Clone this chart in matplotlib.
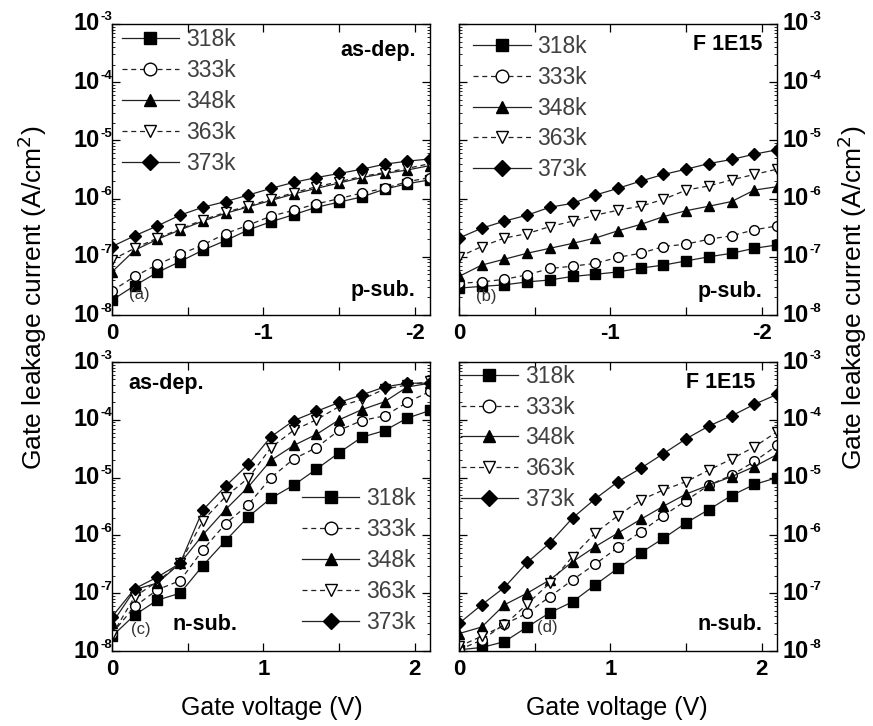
import numpy as np
import matplotlib.pyplot as plt
from matplotlib.ticker import LogLocator, NullFormatter
from matplotlib.transforms import offset_copy

plt.rcParams['font.family'] = ['Liberation Sans', 'DejaVu Sans']

labels = ['318k', '333k', '348k', '363k', '373k']
vg = [0, 0.15, 0.3, 0.45, 0.6, 0.75, 0.9, 1.05, 1.2, 1.35, 1.5, 1.65, 1.8, 1.95, 2.1]
decades = [-8, -7, -6, -5, -4, -3]

# (a) p-sub, as-dep, negative bias
a_318 = [1.8e-8, 3.2e-8, 5.4e-8, 8.3e-8, 1.3e-7, 1.9e-7, 2.9e-7, 4.0e-7, 5.3e-7, 7.1e-7, 8.7e-7, 1.07e-6, 1.45e-6, 1.8e-6, 2.1e-6]
a_333 = [2.6e-8, 4.6e-8, 7.4e-8, 1.1e-7, 1.6e-7, 2.5e-7, 3.5e-7, 5.0e-7, 6.3e-7, 8.1e-7, 1.0e-6, 1.25e-6, 1.5e-6, 1.95e-6, 2.3e-6]
a_348 = [5.5e-8, 1.3e-7, 2.0e-7, 2.9e-7, 4.1e-7, 5.6e-7, 7.2e-7, 9.3e-7, 1.2e-6, 1.5e-6, 1.85e-6, 2.3e-6, 2.7e-6, 3.1e-6, 3.7e-6]
a_363 = [8.9e-8, 1.4e-7, 2.1e-7, 3.0e-7, 4.3e-7, 5.8e-7, 7.5e-7, 9.7e-7, 1.26e-6, 1.6e-6, 1.95e-6, 2.4e-6, 2.8e-6, 3.3e-6, 4.0e-6]
a_373 = [1.5e-7, 2.3e-7, 3.4e-7, 5.2e-7, 7.1e-7, 8.9e-7, 1.15e-6, 1.5e-6, 1.9e-6, 2.3e-6, 2.7e-6, 3.2e-6, 3.9e-6, 4.4e-6, 4.8e-6]

# (b) p-sub, F 1E15
b_318 = [2.9e-8, 3.1e-8, 3.3e-8, 3.7e-8, 4.0e-8, 4.6e-8, 5.0e-8, 5.5e-8, 6.4e-8, 7.2e-8, 8.5e-8, 1.0e-7, 1.15e-7, 1.4e-7, 1.6e-7]
b_333 = [3.5e-8, 3.7e-8, 4.1e-8, 4.9e-8, 6.3e-8, 6.9e-8, 7.7e-8, 9.8e-8, 1.15e-7, 1.5e-7, 1.65e-7, 2.0e-7, 2.3e-7, 2.9e-7, 3.4e-7]
b_348 = [4.6e-8, 7.2e-8, 9.1e-8, 1.15e-7, 1.4e-7, 1.7e-7, 2.1e-7, 2.8e-7, 3.6e-7, 4.9e-7, 6.2e-7, 7.4e-7, 8.9e-7, 1.4e-6, 1.6e-6]
b_363 = [1.0e-7, 1.5e-7, 2.1e-7, 2.5e-7, 3.3e-7, 4.1e-7, 5.2e-7, 6.3e-7, 7.4e-7, 9.7e-7, 1.4e-6, 1.65e-6, 2.1e-6, 2.6e-6, 3.2e-6]
b_373 = [2.1e-7, 3.1e-7, 4.1e-7, 5.2e-7, 7.1e-7, 8.3e-7, 1.15e-6, 1.5e-6, 2.0e-6, 2.6e-6, 3.2e-6, 4.0e-6, 4.7e-6, 5.8e-6, 6.9e-6]

# (c) n-sub, as-dep
c_318 = [1.8e-8, 4.2e-8, 7.6e-8, 1.0e-7, 3.0e-7, 8.1e-7, 2.1e-6, 4.4e-6, 7.4e-6, 1.4e-5, 2.7e-5, 5.0e-5, 6.5e-5, 1.07e-4, 1.45e-4]
c_333 = [2.0e-8, 5.9e-8, 1.15e-7, 1.65e-7, 5.6e-7, 1.6e-6, 3.4e-6, 1.0e-5, 2.1e-5, 3.3e-5, 6.6e-5, 9.7e-5, 1.17e-4, 2.0e-4, 3.1e-4]
c_348 = [3.0e-8, 1.15e-7, 1.5e-7, 3.3e-7, 1.02e-6, 2.8e-6, 6.9e-6, 2.0e-5, 3.6e-5, 5.6e-5, 1.0e-4, 1.5e-4, 2.05e-4, 3.7e-4, 4.3e-4]
c_363 = [1.9e-8, 8.7e-8, 1.6e-7, 3.3e-7, 1.8e-6, 4.7e-6, 9.8e-6, 3.3e-5, 6.6e-5, 1.0e-4, 1.7e-4, 2.25e-4, 3.4e-4, 4.0e-4, 4.6e-4]
c_373 = [3.9e-8, 1.2e-7, 1.9e-7, 3.3e-7, 2.75e-6, 7.1e-6, 1.7e-5, 5.1e-5, 9.7e-5, 1.4e-4, 2.0e-4, 2.7e-4, 3.7e-4, 4.3e-4, 4.3e-4]

# (d) n-sub, F 1E15
d_318 = [1.05e-8, 1.15e-8, 1.45e-8, 2.6e-8, 4.6e-8, 7.1e-8, 1.4e-7, 2.7e-7, 5.0e-7, 8.9e-7, 1.65e-6, 2.8e-6, 4.9e-6, 7.6e-6, 1.0e-5]
d_333 = [1.05e-8, 1.55e-8, 2.9e-8, 4.5e-8, 8.7e-8, 1.7e-7, 3.2e-7, 6.2e-7, 1.15e-6, 2.2e-6, 4.0e-6, 7.4e-6, 1.1e-5, 1.9e-5, 3.6e-5]
d_348 = [2.0e-8, 2.6e-8, 6.3e-8, 1.0e-7, 1.7e-7, 3.5e-7, 6.4e-7, 1.1e-6, 1.9e-6, 3.2e-6, 5.2e-6, 7.4e-6, 1.04e-5, 1.55e-5, 2.5e-5]
d_363 = [1.2e-8, 1.8e-8, 2.8e-8, 6.5e-8, 1.5e-7, 4.3e-7, 1.1e-6, 2.2e-6, 4.1e-6, 6.1e-6, 8.5e-6, 1.35e-5, 2.1e-5, 3.4e-5, 6.2e-5]
d_373 = [3.0e-8, 6.3e-8, 1.26e-7, 3.4e-7, 7.4e-7, 2.0e-6, 4.3e-6, 8.5e-6, 1.45e-5, 2.6e-5, 4.7e-5, 7.8e-5, 1.17e-4, 1.85e-4, 2.75e-4]

styles = [('s', '-', 'k'), ('o', '--', 'w'), ('^', '-', 'k'), ('v', '--', 'w'), ('D', '-', 'k')]

fig = plt.figure(figsize=(8.73, 7.26), dpi=100)
W, H = 873, 726
def box(l, t, r, b):
    return [l / W, 1 - b / H, (r - l) / W, (b - t) / H]

ax_a = fig.add_axes(box(112, 24, 430, 315))
ax_b = fig.add_axes(box(459, 24, 777, 315))
ax_c = fig.add_axes(box(112, 362, 430, 651))
ax_d = fig.add_axes(box(459, 362, 777, 651))

panels = [
    (ax_a, -1, [a_318, a_333, a_348, a_363, a_373], 'upper left', (0.03, 0.985), 'left'),
    (ax_b, -1, [b_318, b_333, b_348, b_363, b_373], 'upper left', (0.045, 0.962), 'right'),
    (ax_c, 1, [c_318, c_333, c_348, c_363, c_373], 'lower right', (0.955, 0.06), 'left'),
    (ax_d, 1, [d_318, d_333, d_348, d_363, d_373], 'upper left', (0.005, 0.99), 'right'),
]

for ax, sign, series, loc, anchor, side in panels:
    x = np.array(vg) * sign
    for (m, ls, fc), y, lab in zip(styles, series, labels):
        ms = 7 if m != 'D' else 6.5
        ax.plot(x, y, linestyle=ls, color='#222222', lw=0.9, marker=m, ms=ms,
                mfc=fc, mec='k', mew=1.0, label=lab, dashes=(4, 3) if ls == '--' else (None, None))
    ax.set_yscale('log')
    ax.set_ylim(1e-8, 1e-3)
    ax.set_xlim(0, 2.1 * sign)
    ax.yaxis.set_major_locator(LogLocator(base=10, numticks=10))
    ax.yaxis.set_minor_locator(LogLocator(base=10, subs=np.arange(2, 10), numticks=10))
    ax.yaxis.set_minor_formatter(NullFormatter())
    ax.set_xticks([0, 0.5 * sign, 1 * sign, 1.5 * sign, 2 * sign])
    ax.set_xticklabels(['0', '', '%d' % sign, '', '%d' % (2 * sign)])
    ax.tick_params(which='both', direction='in', top=True, right=True, left=True)
    ax.tick_params(which='major', length=5.5, width=0.9, labelsize=16, pad=6)
    ax.tick_params(which='minor', length=2.5, width=0.6)
    ax.tick_params(axis='y', labelleft=False, labelright=False)
    for lbl in ax.get_xticklabels():
        lbl.set_fontweight('bold')
    for sp in ax.spines.values():
        sp.set_linewidth(1.0)

    # decade labels: "10" with small raised exponent
    base = ax.get_yaxis_transform()
    if side == 'left':
        t10 = offset_copy(base, fig=fig, x=-12, y=0, units='dots')
        tex = offset_copy(base, fig=fig, x=-11.5, y=6.5, units='dots')
        x0, ha10 = 0, 'right'
    else:
        t10 = offset_copy(base, fig=fig, x=6, y=0, units='dots')
        tex = offset_copy(base, fig=fig, x=33, y=6.5, units='dots')
        x0, ha10 = 1, 'left'
    for e in decades:
        ax.text(x0, 10.0 ** e, '10', transform=t10, ha=ha10, va='center',
                fontsize=17, fontweight='bold', clip_on=False)
        ax.text(x0, 10.0 ** e, '%d' % e, transform=tex, ha='left', va='center',
                fontsize=9.5, fontweight='bold', clip_on=False)

    leg = ax.legend(loc=loc, bbox_to_anchor=anchor, frameon=False, fontsize=16.5,
                    handlelength=2.5, handletextpad=0.3, labelspacing=0.34,
                    borderaxespad=0, borderpad=0, markerscale=1.3)
    for t in leg.get_texts():
        t.set_color('#404040')

bold = dict(fontsize=15.5, fontweight='bold')
tag = dict(fontsize=12, color='#333333', ha='center', va='center')
ax_a.text(0.955, 0.91, 'as-dep.', transform=ax_a.transAxes, ha='right', va='center', **bold)
ax_a.text(0.955, 0.085, 'p-sub.', transform=ax_a.transAxes, ha='right', va='center', **bold)
ax_a.text(0.085, 0.069, '(a)', transform=ax_a.transAxes, **tag)
ax_b.text(0.955, 0.928, 'F 1E15', transform=ax_b.transAxes, ha='right', va='center', **bold)
ax_b.text(0.955, 0.08, 'p-sub.', transform=ax_b.transAxes, ha='right', va='center', **bold)
ax_b.text(0.085, 0.062, '(b)', transform=ax_b.transAxes, **tag)
ax_c.text(0.05, 0.927, 'as-dep.', transform=ax_c.transAxes, ha='left', va='center', **bold)
ax_c.text(0.19, 0.09, 'n-sub.', transform=ax_c.transAxes, ha='left', va='center', **bold)
ax_c.text(0.091, 0.073, '(c)', transform=ax_c.transAxes, **tag)
ax_d.text(0.931, 0.93, 'F 1E15', transform=ax_d.transAxes, ha='right', va='center', **bold)
ax_d.text(0.955, 0.09, 'n-sub.', transform=ax_d.transAxes, ha='right', va='center', **bold)
ax_d.text(0.277, 0.08, '(d)', transform=ax_d.transAxes, **tag)

ylab = 'Gate leakage current (A/cm$^2$)'
fig.text(32 / W, 1 - 298 / H, ylab, rotation=90, ha='center', va='center', fontsize=19)
fig.text(852 / W, 1 - 298 / H, ylab, rotation=90, ha='center', va='center', fontsize=19)
fig.text(272 / W, 1 - 708 / H, 'Gate voltage (V)', ha='center', va='center', fontsize=18)
fig.text(617 / W, 1 - 708 / H, 'Gate voltage (V)', ha='center', va='center', fontsize=18)

fig.savefig('out.png', dpi=100)
